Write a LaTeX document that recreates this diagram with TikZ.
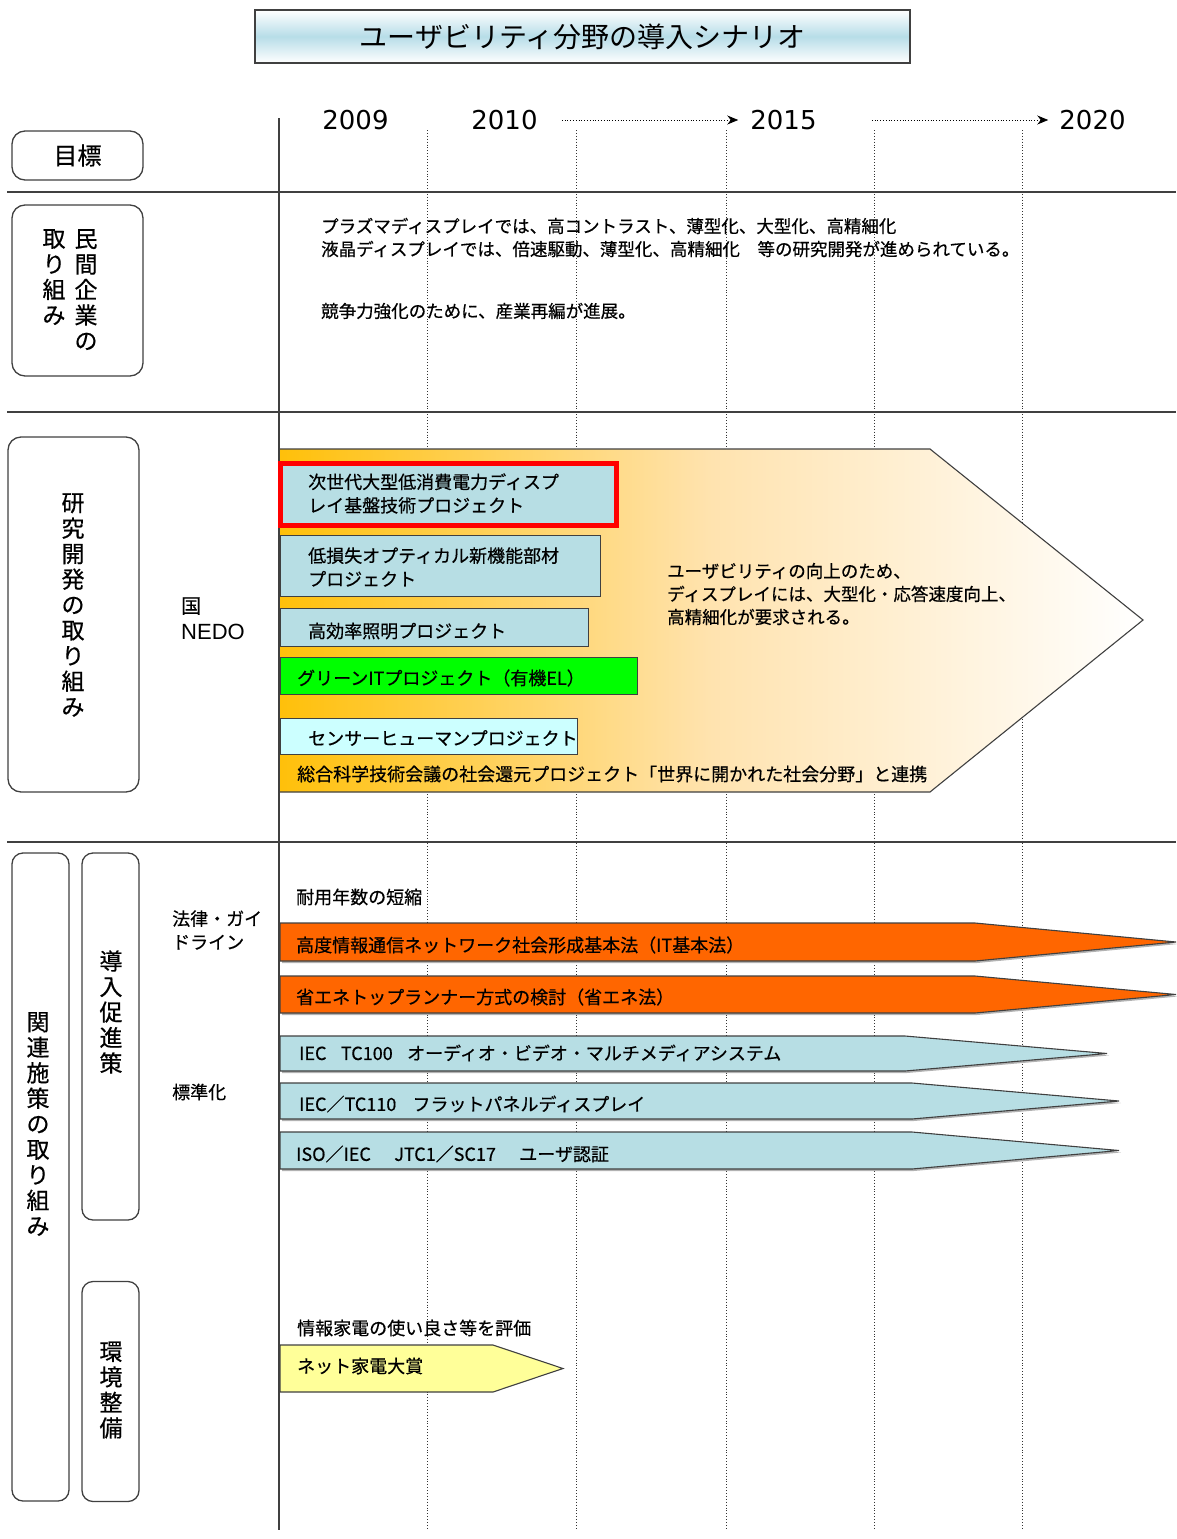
\documentclass[tikz,border=0pt]{standalone}
\usepackage{fontspec}
\setmainfont{Noto Sans CJK JP}[FakeBold=0.5]
\newfontfamily\titlefont{Noto Sans CJK JP}
\newfontfamily\yearfont{DejaVu Sans}
\newfontfamily\latinfont{Liberation Sans}
\usetikzlibrary{arrows.meta}
\definecolor{titleblue}{RGB}{183,221,232}
\definecolor{barblue}{RGB}{183,222,228}
\definecolor{gold}{RGB}{255,192,10}
\definecolor{paleorange}{RGB}{255,227,175}
\definecolor{barorange}{RGB}{255,102,0}
\definecolor{bargreen}{RGB}{0,255,0}
\definecolor{barcyan}{RGB}{204,255,255}
\definecolor{baryellow}{RGB}{255,255,153}
\definecolor{rulegray}{RGB}{64,64,64}
\begin{document}
\begin{tikzpicture}[x=1pt,y=-1pt,
  txt/.style={inner sep=0pt, anchor=west, align=left, font=\fontsize{17.5}{23}\selectfont},
  txtb/.style={inner sep=0pt, anchor=west, align=left, font=\fontsize{18}{23.5}\selectfont},
  sidebox/.style={draw=rulegray, line width=1.3pt, rounded corners=13pt, fill=white, inner sep=0pt},
  vtext/.style={inner sep=0pt, align=center, font=\fontsize{23}{25.5}\selectfont},
  gridline/.style={dotted, line width=0.9pt, black!80},
  rule/.style={line width=1.6pt, rulegray},
  pbox/.style={draw=rulegray, line width=1.3pt, anchor=north west, inner sep=0pt},
  barshape/.style={draw=rulegray, line width=1.1pt},
  barshadow/.style={fill=black!30},
  yeararrow/.style={dotted, line width=0.8pt, -{Stealth[length=11pt,width=9pt]}},
  year/.style={inner sep=0pt, font=\yearfont\fontsize{26}{26}\selectfont}]
\useasboundingbox (0,0) rectangle (1176,1539);

% grid
\foreach \gx in {427,576,726,874,1022} \draw[gridline] (\gx,130) -- (\gx,1530);
\draw[rulegray, line width=1.3pt] (279,118) -- (279,1530);
\draw[rule] (7,192) -- (1176,192);
\draw[rule] (7,412) -- (1176,412);
\draw[rule] (7,842) -- (1176,842);

% title
\node[draw=rulegray, line width=1.2pt, minimum width=655, minimum height=53,
  top color=white, bottom color=white, middle color=titleblue, inner sep=0pt,
  font=\titlefont\fontsize{28}{28}\selectfont] (title) at (582.5,36.5) {ユーザビリティ分野の導入シナリオ};

% years
\node[year] (y2009) at (355.5,120) {2009};
\node[year] (y2010) at (504.5,120) {2010};
\node[year] (y2015) at (783.5,120) {2015};
\node[year] (y2020) at (1092.5,120) {2020};
\draw[yeararrow, shorten <=24pt, shorten >=12pt] (y2010.east) -- (y2015.west);
\draw[yeararrow, shorten <=55pt, shorten >=11pt] (y2015.east) -- (y2020.west);

% side boxes
\node[sidebox, minimum width=131, minimum height=49, font=\fontsize{24}{24}\selectfont] (goal) at (77.5,155.5) {目標};
\node[sidebox, minimum width=131, minimum height=171] (priv) at (77.5,290.5) {};
\node[vtext, anchor=north] (privR) at (86,229) {民\\間\\企\\業\\の};
\node[vtext, anchor=north] (privL) at (54,229) {取\\り\\組\\み};
\node[sidebox, minimum width=131, minimum height=355] (rnd) at (73.5,614.5) {};
\node[vtext] (rndt) at (73,605) {研\\究\\開\\発\\の\\取\\り\\組\\み};
\node[sidebox, minimum width=57, minimum height=648, rounded corners=11pt] (rel) at (40.5,1177) {};
\node[vtext] (relt) at (38,1124) {関\\連\\施\\策\\の\\取\\り\\組\\み};
\node[sidebox, minimum width=57, minimum height=367, rounded corners=11pt] (promo) at (110.5,1036.5) {};
\node[vtext] (promot) at (111,1012) {導\\入\\促\\進\\策};
\node[sidebox, minimum width=57, minimum height=220, rounded corners=11pt] (env) at (110.5,1391.5) {};
\node[vtext] (envt) at (111,1390) {環\\境\\整\\備};

% row labels
\node[inner sep=0pt, anchor=west, font=\fontsize{20}{20}\selectfont] (kuni) at (181,606) {国};
\node[inner sep=0pt, anchor=west, font=\latinfont\fontsize{22}{22}\selectfont] (nedo) at (181,632) {NEDO};
\node[txtb] (law) at (172,930) {法律・ガイ\\ドライン};
\node[txtb] (std) at (172,1092) {標準化};

% section 1
\node[txt] (s1a) at (321,237.5) {プラズマディスプレイでは、高コントラスト、薄型化、大型化、高精細化\\液晶ディスプレイでは、倍速駆動、薄型化、高精細化　等の研究開発が進められている。};
\node[txt] (s1b) at (321,311) {競争力強化のために、産業再編が進展。};

% big arrow
\shade[left color=gold, right color=white, middle color=paleorange]
  (280,449) -- (930,449) -- (1143,620) -- (930,792) -- (280,792) -- cycle;
\draw[barshape] (280,449) -- (930,449) -- (1143,620) -- (930,792) -- (280,792);

\node[pbox, draw=red, line width=5pt, fill=barblue, minimum width=336, minimum height=62] (p1) at (277.5,460.5) {};
\node[txtb] (p1t) at (308,493.5) {次世代大型低消費電力ディスプ\\レイ基盤技術プロジェクト};
\node[pbox, fill=barblue, minimum width=320, minimum height=61] (p2) at (280,535) {};
\node[txtb] (p2t) at (308,567) {低損失オプティカル新機能部材\\プロジェクト};
\node[pbox, fill=barblue, minimum width=308, minimum height=38] (p3) at (280,608) {};
\node[txtb] (p3t) at (308,631) {高効率照明プロジェクト};
\node[pbox, fill=bargreen, minimum width=357, minimum height=37] (p4) at (280,657) {};
\node[txtb] (p4t) at (297,678) {グリーンITプロジェクト（有機EL）};
\node[pbox, fill=barcyan, minimum width=297, minimum height=36] (p5) at (280,718) {};
\node[txtb] (p5t) at (308,738) {センサーヒューマンプロジェクト};
\node[txtb] (p6t) at (297,774) {総合科学技術会議の社会還元プロジェクト「世界に開かれた社会分野」と連携};
\node[txt] (bigt) at (667,594) {ユーザビリティの向上のため、\\ディスプレイには、大型化・応答速度向上、\\高精細化が要求される。};

% section 3
\node[txtb] (dur) at (296,897) {耐用年数の短縮};
\fill[barshadow, shift={(2,2)}] (280,923) -- (975,923) -- (1176,942) -- (975,961) -- (280,961) -- cycle;
\filldraw[barshape, fill=barorange] (280,923) -- (975,923) -- (1176,942) -- (975,961) -- (280,961) -- cycle;
\node[txtb] (o1t) at (296,945) {高度情報通信ネットワーク社会形成基本法（IT基本法）};
\fill[barshadow, shift={(2,2)}] (280,976) -- (975,976) -- (1176,994.5) -- (975,1013) -- (280,1013) -- cycle;
\filldraw[barshape, fill=barorange] (280,976) -- (975,976) -- (1176,994.5) -- (975,1013) -- (280,1013) -- cycle;
\node[txtb] (o2t) at (296,997) {省エネトップランナー方式の検討（省エネ法）};
\fill[barshadow, shift={(2,2)}] (280,1036) -- (905,1036) -- (1107,1053.5) -- (905,1071) -- (280,1071) -- cycle;
\filldraw[barshape, fill=barblue] (280,1036) -- (905,1036) -- (1107,1053.5) -- (905,1071) -- (280,1071) -- cycle;
\node[txtb] (b1t) at (299,1053) {IEC\hspace{0.8em}TC100\hspace{0.8em}オーディオ・ビデオ・マルチメディアシステム};
\fill[barshadow, shift={(2,2)}] (280,1083) -- (912,1083) -- (1119,1101) -- (912,1119) -- (280,1119) -- cycle;
\filldraw[barshape, fill=barblue] (280,1083) -- (912,1083) -- (1119,1101) -- (912,1119) -- (280,1119) -- cycle;
\node[txtb] (b2t) at (299,1104) {IEC／TC110\hspace{0.9em}フラットパネルディスプレイ};
\fill[barshadow, shift={(2,2)}] (280,1132) -- (912,1132) -- (1119,1150.5) -- (912,1169) -- (280,1169) -- cycle;
\filldraw[barshape, fill=barblue] (280,1132) -- (912,1132) -- (1119,1150.5) -- (912,1169) -- (280,1169) -- cycle;
\node[txtb] (b3t) at (296,1154) {ISO／IEC\hspace{1.3em}JTC1／SC17\hspace{1.3em}ユーザ認証};

\node[txtb] (eval) at (297,1328) {情報家電の使い良さ等を評価};
\filldraw[barshape, fill=baryellow] (280,1345) -- (493,1345) -- (563,1368.5) -- (493,1392) -- (280,1392) -- cycle;
\node[txtb] (award) at (297,1366) {ネット家電大賞};
\end{tikzpicture}
\end{document}
